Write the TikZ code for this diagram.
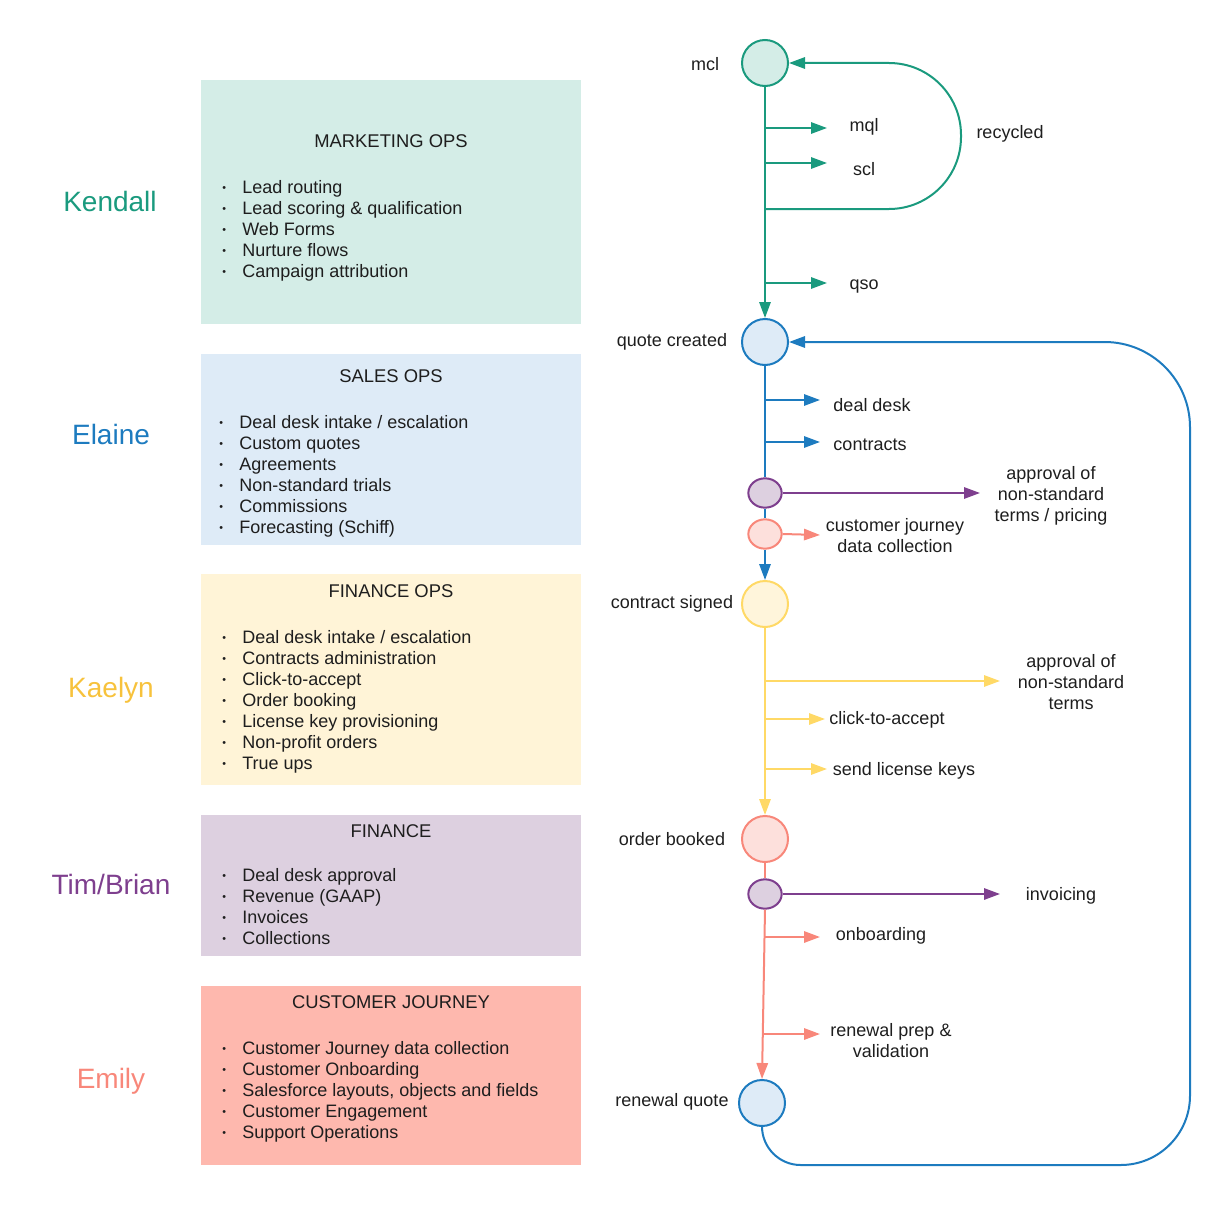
\documentclass[tikz,border=0pt]{standalone}
\usepackage{fontspec}
\setmainfont{Liberation Sans}
\usetikzlibrary{arrows.meta,shapes.geometric}
\definecolor{cTeal}{HTML}{1A9A7E}
\definecolor{cBlue}{HTML}{1D7BBF}
\definecolor{cYel}{HTML}{FFD966}
\definecolor{cYelT}{HTML}{F7C23C}
\definecolor{cPur}{HTML}{7E3F8E}
\definecolor{cSal}{HTML}{F8877A}
\definecolor{fMk}{HTML}{D4EDE7}
\definecolor{fSa}{HTML}{DEEBF7}
\definecolor{fFo}{HTML}{FFF4D7}
\definecolor{fFi}{HTML}{DDD0E0}
\definecolor{fCj}{HTML}{FEB8AE}
\definecolor{fPk}{HTML}{FDE0DC}
\definecolor{fYl}{HTML}{FFF5DB}
\definecolor{txt}{HTML}{1E1E1E}
\newcommand{\fs}{\fontsize{13.5}{15.75}\selectfont}
\newcommand{\bul}{\makebox[3pt][c]{\raisebox{0.9pt}{\fontsize{8}{8}\selectfont •}}}
\newcommand{\blst}[1]{\begin{tabular}[t]{@{}l@{\hspace{12pt}}l@{}}#1\end{tabular}}
\tikzset{
  boxn/.style={rectangle, draw=none, minimum width=285pt, inner sep=0},
  ttl/.style={font=\fontsize{13.8}{15.75}\selectfont, text=txt, inner sep=0},
  lst/.style={font=\fs, text=txt, anchor=base west, inner sep=0},
  who/.style={font=\fontsize{21}{25}\selectfont, inner sep=0},
  lbl/.style={font=\fs, text=txt, align=center, inner sep=0},
  bigc/.style={circle, minimum size=34.5pt, inner sep=0, line width=1.5pt},
  smc/.style={ellipse, minimum width=25pt, minimum height=22pt, inner sep=0, line width=1.5pt},
  ln/.style={line width=1.5pt},
  arr/.style={line width=1.5pt, -{Triangle[length=12pt,width=8.5pt]}}
}
\begin{document}
\begin{tikzpicture}[x=0.75pt,y=-0.75pt]
\useasboundingbox (0,0) rectangle (1231,1206);
% ---------- left boxes ----------
\node[boxn, fill=fMk, minimum height=183pt] (bmk) at (391,202) {};
\node[boxn, fill=fSa, minimum height=143.25pt] (bsa) at (391,449.5) {};
\node[boxn, fill=fFo, minimum height=158.25pt] (bfo) at (391,679.5) {};
\node[boxn, fill=fFi, minimum height=105.75pt] (bfi) at (391,885.5) {};
\node[boxn, fill=fCj, minimum height=134.25pt] (bcj) at (391,1075.5) {};

\node[ttl] (tmk) at (391,141) {MARKETING OPS};
\node[ttl] (tsa) at (391,376) {SALES OPS};
\node[ttl] (tfo) at (391,591) {FINANCE OPS};
\node[ttl] (tfi) at (391,831) {FINANCE};
\node[ttl] (tcj) at (391,1002) {CUSTOMER JOURNEY};

\node[lst] (lmk) at (222,193) {\blst{\bul & Lead routing\\ \bul & Lead scoring \& qualification\\ \bul & Web Forms\\ \bul & Nurture flows\\ \bul & Campaign attribution}};
\node[lst] (lsa) at (219,428) {\blst{\bul & Deal desk intake / escalation\\ \bul & Custom quotes\\ \bul & Agreements\\ \bul & Non-standard trials\\ \bul & Commissions\\ \bul & Forecasting (Schiff)}};
\node[lst] (lfo) at (222,643) {\blst{\bul & Deal desk intake / escalation\\ \bul & Contracts administration\\ \bul & Click-to-accept\\ \bul & Order booking\\ \bul & License key provisioning\\ \bul & Non-profit orders\\ \bul & True ups}};
\node[lst] (lfi) at (222,881) {\blst{\bul & Deal desk approval\\ \bul & Revenue (GAAP)\\ \bul & Invoices\\ \bul & Collections}};
\node[lst] (lcj) at (222,1054) {\blst{\bul & Customer Journey data collection\\ \bul & Customer Onboarding\\ \bul & Salesforce layouts, objects and fields\\ \bul & Customer Engagement\\ \bul & Support Operations}};

% ---------- names ----------
\node[who, text=cTeal] (nk) at (110,201) {Kendall};
\node[who, text=cBlue] (ne) at (111,434) {Elaine};
\node[who, text=cYelT] (nka) at (111,690) {Kaelyn};
\node[who, text=cPur] (nt) at (111,884) {Tim/Brian};
\node[who, text=cSal] (nem) at (111,1081) {Emily};

% ---------- flow nodes ----------
\node[bigc, draw=cTeal, fill=fMk] (mcl) at (765,63) {};
\node[bigc, draw=cBlue, fill=fSa] (qc) at (765,342) {};
\node[smc, draw=cPur, fill=fFi] (pu1) at (765,493) {};
\node[smc, draw=cSal, fill=fPk] (pk1) at (765,534) {};
\node[bigc, draw=cYel, fill=fYl] (cs) at (765,604) {};
\node[bigc, draw=cSal, fill=fPk] (ob) at (765,839) {};
\node[smc, draw=cPur, fill=fFi] (pu2) at (765,894) {};
\node[bigc, draw=cBlue, fill=fSa] (rq) at (762,1103) {};

% labels
\node[lbl] (lmcl) at (705,64) {mcl};
\node[lbl] (lqc) at (672,342) {quote created};
\node[lbl] (lcs) at (672,604) {contract signed};
\node[lbl] (lob) at (672,839) {order booked};
\node[lbl] (lrq) at (672,1102) {renewal quote};
\node[lbl] (lmql) at (864,127) {mql};
\node[lbl] (lscl) at (864,169) {scl};
\node[lbl] (lqso) at (864,287) {qso};
\node[lbl] (lrec) at (1010,134) {recycled};
\node[lbl] (ldd) at (872,405) {deal desk};
\node[lbl] (lco) at (870,445) {contracts};
\node[lbl] (lap1) at (1051,496) {approval of\\non-standard\\terms / pricing};
\node[lbl] (lcjd) at (895,536) {customer journey\\data collection};
\node[lbl] (lap2) at (1071,682) {approval of\\non-standard\\terms};
\node[lbl] (lcta) at (887,720) {click-to-accept};
\node[lbl] (lslk) at (904,771) {send license keys};
\node[lbl] (linv) at (1061,896) {invoicing};
\node[lbl] (lonb) at (881,936) {onboarding};
\node[lbl] (lrp) at (891,1041) {renewal prep \&\\validation};

% coordinates for branches
\coordinate (t1s) at (765,128); \coordinate (t1e) at (827,128);
\coordinate (t2s) at (765,163); \coordinate (t2e) at (827,163);
\coordinate (t3s) at (765,209); \coordinate (t3c) at (961,209); \coordinate (t3d) at (961,63);
\coordinate (t4s) at (765,283); \coordinate (t4e) at (827,283);
\coordinate (b1s) at (765,400); \coordinate (b1e) at (820,400);
\coordinate (b2s) at (765,442); \coordinate (b2e) at (820,442);
\coordinate (p1e) at (980,493);
\coordinate (k1e) at (820,535);
\coordinate (y1s) at (765,681); \coordinate (y1e) at (1000,681);
\coordinate (y2s) at (765,719); \coordinate (y2e) at (825,719);
\coordinate (y3s) at (765,769); \coordinate (y3e) at (827,769);
\coordinate (p2e) at (1000,894);
\coordinate (s1s) at (764.5,937); \coordinate (s1e) at (820,937);
\coordinate (s2s) at (763.5,1034); \coordinate (s2e) at (820,1034);
\coordinate (lb1) at (762,1165); \coordinate (lb2) at (1190,1165); \coordinate (lb3) at (1190,342);

% ---------- connectors ----------
\draw[arr, cTeal] (mcl.south) -- (qc.north);
\draw[arr, cTeal] (t1s) -- (t1e);
\draw[arr, cTeal] (t2s) -- (t2e);
\draw[arr, cTeal] (t4s) -- (t4e);
\draw[arr, cTeal, rounded corners=54pt] (t3s) -- (t3c) -- (t3d) -- (mcl.east);

\draw[ln, cBlue] (qc.south) -- (pu1.north);
\draw[ln, cBlue] (pu1.south) -- (pk1.north);
\draw[arr, cBlue] (pk1.south) -- (cs.north);
\draw[arr, cBlue] (b1s) -- (b1e);
\draw[arr, cBlue] (b2s) -- (b2e);
\draw[arr, cPur] (pu1.east) -- (p1e);
\draw[arr, cSal] (pk1.east) -- (k1e);

\draw[arr, cYel] (cs.south) -- (ob.north);
\draw[arr, cYel] (y1s) -- (y1e);
\draw[arr, cYel] (y2s) -- (y2e);
\draw[arr, cYel] (y3s) -- (y3e);

\draw[ln, cSal] (ob.south) -- (pu2.north);
\draw[arr, cSal] (pu2.south) -- (rq.north);
\draw[arr, cPur] (pu2.east) -- (p2e);
\draw[arr, cSal] (s1s) -- (s1e);
\draw[arr, cSal] (s2s) -- (s2e);

\draw[arr, cBlue, rounded corners=29pt] (rq.south) -- (lb1) [rounded corners=52pt] -- (lb2) [rounded corners=64pt] -- (lb3) -- (qc.east);
\end{tikzpicture}
\end{document}
